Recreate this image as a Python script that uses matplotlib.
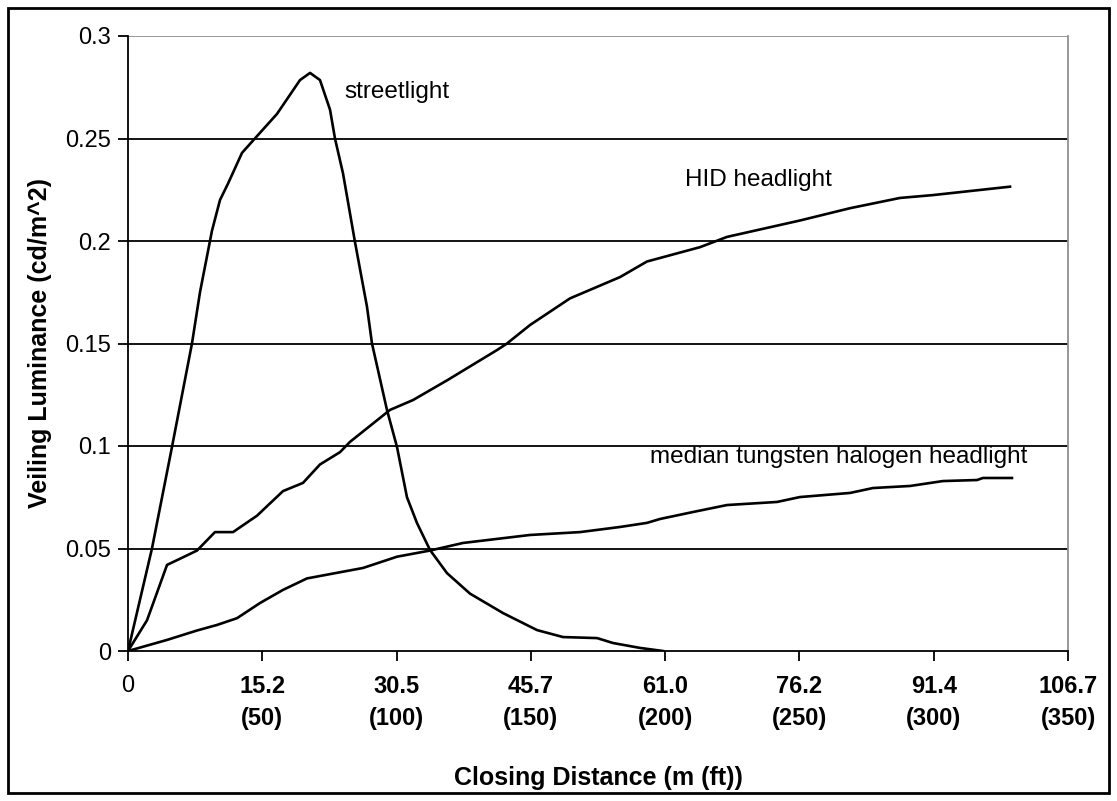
import matplotlib.pyplot as plt
import numpy as np

plt.rcParams['font.family'] = ['Liberation Sans', 'DejaVu Sans']

# closing distance in metres, veiling luminance in cd/m^2
street_x = [0, 2.72, 4.99, 7.26, 8.17, 9.53, 10.44, 11.35, 12.94, 14.19, 16.91, 19.52, 20.66,
            21.79, 22.93, 23.49, 24.40, 25.76, 27.12, 27.69, 29.39, 30.53, 31.66, 32.80, 34.27,
            36.20, 38.81, 42.56, 46.42, 49.37, 53.23, 55.04, 58.11, 60.72]
street_y = [0, 0.05, 0.0995, 0.150, 0.175, 0.205, 0.220, 0.228, 0.243, 0.249, 0.262, 0.2785,
            0.282, 0.2785, 0.264, 0.250, 0.233, 0.1995, 0.168, 0.150, 0.1176, 0.0995, 0.075,
            0.0624, 0.0493, 0.038, 0.028, 0.0185, 0.0102, 0.0068, 0.0063, 0.0039, 0.0015, 0.0]

hid_x = [0, 2.16, 4.43, 5.90, 7.83, 9.87, 11.92, 14.64, 17.59, 19.86, 21.79, 24.06, 25.19,
         28.60, 29.73, 32.34, 36.20, 41.88, 43.01, 45.62, 50.16, 55.84, 58.90, 64.92, 67.98,
         76.26, 81.94, 87.61, 91.36, 100.10]
hid_y = [0, 0.015, 0.042, 0.045, 0.049, 0.058, 0.058, 0.066, 0.078, 0.082, 0.091, 0.097, 0.102,
         0.1137, 0.1176, 0.1224, 0.132, 0.1468, 0.150, 0.159, 0.172, 0.1824, 0.190, 0.197,
         0.202, 0.210, 0.216, 0.221, 0.2224, 0.2265]

halo_x = [0, 4.43, 7.83, 10.10, 12.37, 14.98, 17.59, 20.31, 22.92, 26.67, 30.53, 34.27, 38.02,
          45.62, 51.30, 55.84, 58.90, 60.38, 64.12, 67.98, 73.65, 76.26, 81.94, 84.55, 88.75,
          92.49, 96.35, 97.03, 100.32]
halo_y = [0, 0.0054, 0.010, 0.0127, 0.016, 0.0234, 0.0298, 0.0354, 0.0375, 0.0405, 0.046,
          0.049, 0.0527, 0.0566, 0.058, 0.0605, 0.0625, 0.0644, 0.0678, 0.0712, 0.0727,
          0.0751, 0.0771, 0.0795, 0.0805, 0.0829, 0.0834, 0.0844, 0.0844]

tick_m = ['0', '15.2', '30.5', '45.7', '61.0', '76.2', '91.4', '106.7']
tick_ft = [0, 50, 100, 150, 200, 250, 300, 350]

fig = plt.figure(figsize=(11.17, 8.01), dpi=100)
ax = fig.add_axes([128 / 1117, 150 / 801, 940 / 1117, 615 / 801])

for yv in [0.05, 0.1, 0.15, 0.2, 0.25]:
    ax.axhline(yv, color='black', lw=1.3, zorder=1)
ax.axhline(0.3, color='#909090', lw=1.3, zorder=1)

for xs, ys in [(street_x, street_y), (hid_x, hid_y), (halo_x, halo_y)]:
    ax.plot(xs, ys, color='black', lw=1.9, zorder=3, solid_joinstyle='round')

ax.set_xlim(0, 350 * 0.3048)
ax.set_ylim(0, 0.3)

pos = [f * 0.3048 for f in tick_ft]
labels = ['0'] + [f'{m}\n({f})' for m, f in zip(tick_m[1:], tick_ft[1:])]
ax.set_xticks(pos)
ax.set_xticklabels(labels, fontsize=17, fontweight='bold', linespacing=1.5)
ax.get_xticklabels()[0].set_fontweight('normal')
ax.set_yticks([0, 0.05, 0.1, 0.15, 0.2, 0.25, 0.3])
ax.set_yticklabels(['0', '0.05', '0.1', '0.15', '0.2', '0.25', '0.3'], fontsize=17)
ax.tick_params(axis='both', direction='out', length=7, width=1.3, colors='black')
ax.tick_params(axis='x', pad=10)
ax.tick_params(axis='y', pad=5)

ax.spines['top'].set_visible(False)
ax.spines['right'].set_color('#909090')
ax.spines['right'].set_linewidth(1.3)
ax.spines['left'].set_linewidth(1.3)
ax.spines['bottom'].set_linewidth(1.3)

ax.set_xlabel('Closing Distance (m (ft))', fontsize=18, fontweight='bold', labelpad=26)
ax.set_ylabel('Veiling Luminance (cd/m^2)', fontsize=18, fontweight='bold', labelpad=10)

ax.text(24.6, 0.2727, 'streetlight', fontsize=17.5, va='center')
ax.text(63.2, 0.2298, 'HID headlight', fontsize=17.5, va='center')
ax.text(59.2, 0.0946, 'median tungsten halogen headlight', fontsize=17.5, va='center')

fig.patches.append(plt.Rectangle((8 / 1117, 8 / 801), 1101 / 1117, 785 / 801,
                                 transform=fig.transFigure, fill=False,
                                 edgecolor='black', lw=2))

fig.savefig('out.png', dpi=100)
